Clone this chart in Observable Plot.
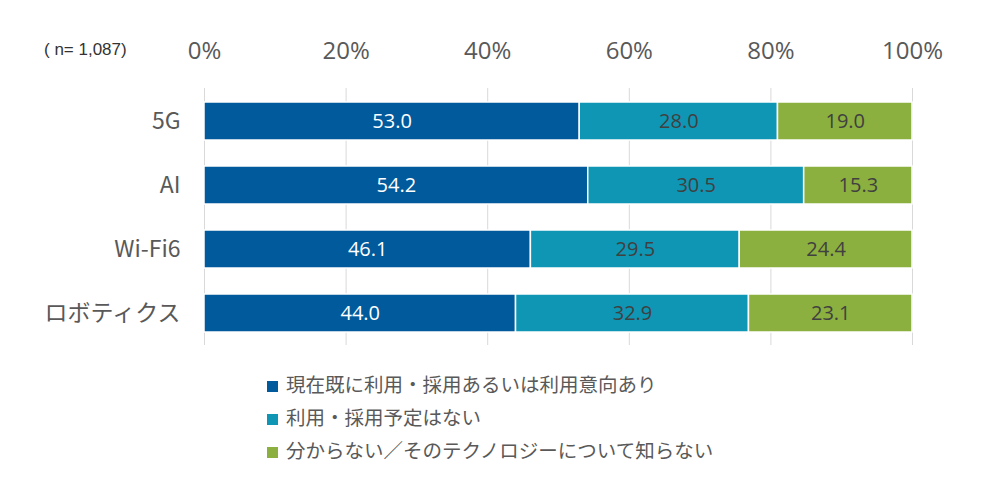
<!DOCTYPE html>
<html><head><meta charset="utf-8">
<script src="https://cdn.jsdelivr.net/npm/d3@7"></script>
<script src="https://cdn.jsdelivr.net/npm/@observablehq/plot@0.6"></script>
<style>
body{margin:0;background:#fff;}
#wrap{position:relative;width:1000px;height:488px;overflow:hidden;}
#n{position:absolute;left:44px;top:40px;font:17px "Liberation Sans",Arial,sans-serif;color:#333;}
#legend{position:absolute;left:267px;top:367px;font:19.5px "Noto Sans CJK JP",sans-serif;color:#595959;}
.li{height:33px;line-height:33px;display:flex;align-items:center;}
.sw{display:inline-block;width:11px;height:11px;margin-right:8px;margin-top:5px;}
</style></head>
<body><div id="wrap"><div id="chart"></div><div id="n">( n= 1,087)</div><div id="legend"></div></div>
<script>
const categories = ["5G", "AI", "Wi-Fi6", "ロボティクス"];
const seriesNames = ["現在既に利用・採用あるいは利用意向あり", "利用・採用予定はない", "分からない／そのテクノロジーについて知らない"];
const colors = ["#005a9b", "#0f96b4", "#8cb03f"];
const labelColors = ["#ffffff", "#404040", "#404040"];
const valuesUsing = [53.0, 54.2, 46.1, 44.0];
const valuesNoPlan = [28.0, 30.5, 29.5, 32.9];
const valuesUnknown = [19.0, 15.3, 24.4, 23.1];
const xTicks = [0, 20, 40, 60, 80, 100];

const seriesValues = [valuesUsing, valuesNoPlan, valuesUnknown];
const data = [];
categories.forEach((c, i) => seriesNames.forEach((s, j) => data.push({cat: c, series: s, value: seriesValues[j][i], lc: labelColors[j]})));

const plot = Plot.plot({
  width: 1000, height: 360,
  marginLeft: 204, marginRight: 88, marginTop: 88, marginBottom: 15,
  x: {domain: [0, 100], axis: "top", ticks: xTicks, tickFormat: d => d + "%", tickSize: 0, tickPadding: 30, label: null},
  y: {domain: categories, padding: 0.41, paddingOuter: 0.2, tickSize: 0, tickPadding: 24, label: null},
  color: {domain: seriesNames, range: colors},
  style: {fontFamily: "'Noto Sans CJK JP', sans-serif", color: "#595959"},
  marks: [
    Plot.gridX(xTicks, {stroke: "#d9d9d9", strokeOpacity: 1, strokeWidth: 1}),
    Plot.barX(data, Plot.stackX({x: "value", y: "cat", fill: "series", z: "series", order: seriesNames, stroke: "#fff", strokeWidth: 1.5})),
    Plot.text(data, Plot.stackX({x: "value", y: "cat", z: "series", order: seriesNames, text: d => d.value.toFixed(1), fill: "lc", fontSize: 20, fontFamily: "'Open Sans', sans-serif"}))
  ]
});
plot.querySelectorAll('g[aria-label="x-axis tick label"] text').forEach(t => {t.style.fontSize = "24px"; t.style.fontFamily = "'Open Sans', sans-serif"; t.setAttribute("fill", "#595959");});
plot.querySelectorAll('g[aria-label="y-axis tick label"] text').forEach(t => {t.style.fontSize = "23px"; t.setAttribute("fill", "#595959");});
document.getElementById("chart").appendChild(plot);

const lg = document.getElementById("legend");
seriesNames.forEach((s, j) => {
  const d = document.createElement("div"); d.className = "li";
  d.innerHTML = `<span class="sw" style="background:${colors[j]}"></span><span>${s}</span>`;
  lg.appendChild(d);
});
</script></body></html>
